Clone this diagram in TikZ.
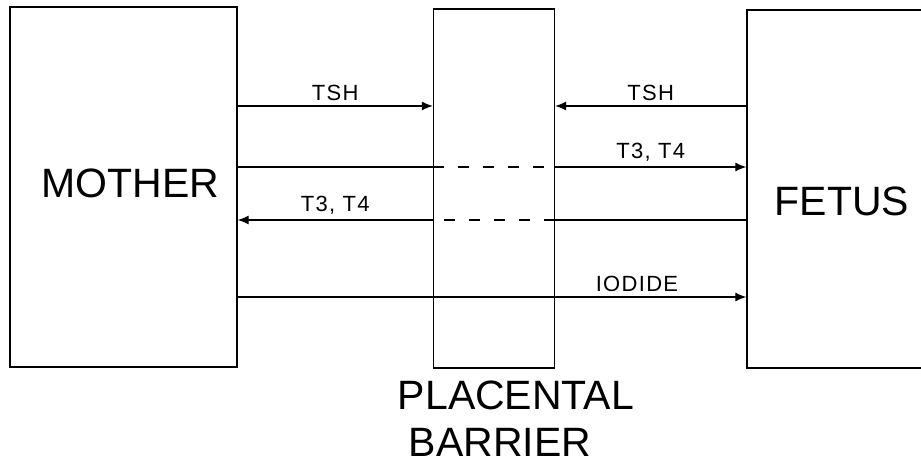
\documentclass[tikz,border=0pt]{standalone}
\usepackage{fontspec}
\setmainfont{Liberation Sans}
\usetikzlibrary{arrows.meta,positioning,calc}

\begin{document}
\begin{tikzpicture}[
  x=1pt, y=-1pt,
  >={Latex[length=11pt,width=9pt]},
  box/.style={rectangle, draw, line width=1.3pt, inner sep=0pt},
  flow/.style={line width=1.2pt},
  barrierdash/.style={line width=1.2pt, dash pattern=on 11pt off 14pt},
  biglabel/.style={font=\fontsize{41}{41}\selectfont, inner sep=0pt},
  smalllabel/.style={font=\fontsize{22}{22}\selectfont\addfontfeature{LetterSpace=6}, inner sep=5pt},
]
  \clip (0,0) rectangle (921,465);
  % the three compartments
  \node[box, minimum width=227pt, minimum height=360pt] (mother) at (123.5,187) {};
  \node[box, minimum width=121pt, minimum height=359pt] (placenta) at (494,188.5) {};
  \node[box, minimum width=200pt, minimum height=358pt] (fetus) at (847,189) {};

  \node[biglabel, anchor=base] (mothertext) at ([xshift=7pt, yshift=-11pt]mother.center) {MOTHER};
  \node[biglabel, anchor=base] (fetustext) at ([xshift=-5pt, yshift=-26pt]fetus.center) {FETUS};
  \node[biglabel, anchor=base] (plactext) at ([xshift=22pt, yshift=-41pt]placenta.south) {PLACENTAL};
  \node[biglabel, anchor=base] (barrtext) at ([xshift=6pt, yshift=-88pt]placenta.south) {BARRIER};

  % levels of the exchanges
  \coordinate (lvtsh) at (0,106);
  \coordinate (lvtin) at (0,167);
  \coordinate (lvtout) at (0,220);
  \coordinate (lviod) at (0,297);

  % TSH does not cross
  \draw[flow, ->] (mother.east |- lvtsh) -- node[smalllabel, above] {TSH} (placenta.west |- lvtsh);
  \draw[flow, ->] (fetus.west |- lvtsh) -- node[smalllabel, above] {TSH} (placenta.east |- lvtsh);

  % T3, T4 mother -> fetus
  \draw[flow] (mother.east |- lvtin) -- (placenta.west |- lvtin);
  \draw[barrierdash] (placenta.west |- lvtin) -- (placenta.east |- lvtin);
  \draw[flow, ->] (placenta.east |- lvtin) -- node[smalllabel, above] {T3, T4} (fetus.west |- lvtin);

  % T3, T4 fetus -> mother
  \draw[flow] (fetus.west |- lvtout) -- (placenta.east |- lvtout);
  \draw[barrierdash] (placenta.east |- lvtout) -- (placenta.west |- lvtout);
  \draw[flow, ->] (placenta.west |- lvtout) -- node[smalllabel, above] {T3, T4} (mother.east |- lvtout);

  % iodide
  \draw[flow, ->] (mother.east |- lviod) -- node[smalllabel, above, pos=0.785] {IODIDE} (fetus.west |- lviod);
\end{tikzpicture}
\end{document}
